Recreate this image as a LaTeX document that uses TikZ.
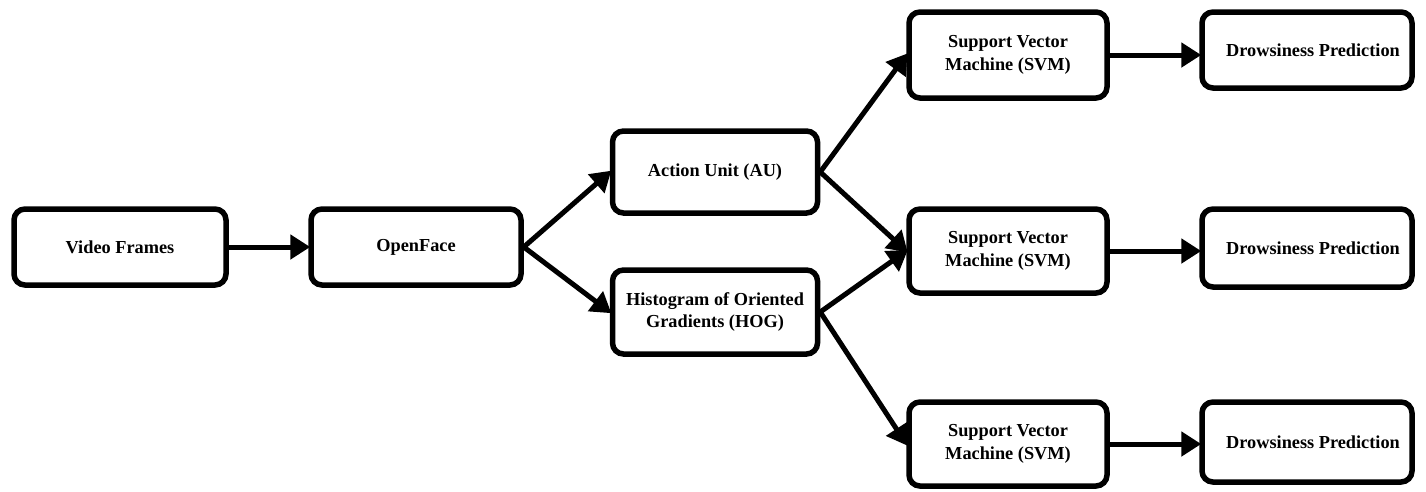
\documentclass[tikz,border=0pt]{standalone}
\usepackage{fontspec}
\setmainfont{Liberation Serif}
\usetikzlibrary{arrows.meta}
\begin{document}
\begin{tikzpicture}[x=1pt,y=-1pt,
  box/.style={draw, line width=5.5pt, rounded corners=11pt, align=center,
    inner sep=0pt, font=\fontsize{18.3}{22.5}\selectfont\bfseries},
  conn/.style={line width=5pt, -{Triangle[length=20pt,width=24pt]}, shorten >=-2pt}]
\useasboundingbox (0,0) rectangle (1426,491);
\node[box, minimum width=212pt, minimum height=76pt] (vf) at (120,247) {Video Frames};
\node[box, minimum width=210pt, minimum height=76pt] (of) at (416,247) {OpenFace};
\node[box, minimum width=205pt, minimum height=82pt] (au) at (715,172) {Action Unit (AU)};
\node[box, minimum width=205pt, minimum height=84pt] (hog) at (715,312) {Histogram of Oriented\\Gradients (HOG)};
\node[box, minimum width=198pt, minimum height=86pt] (svm1) at (1008,55) {Support Vector\\Machine (SVM)};
\node[box, minimum width=198pt, minimum height=84pt] (svm2) at (1008,251) {Support Vector\\Machine (SVM)};
\node[box, minimum width=198pt, minimum height=84pt] (svm3) at (1008,444) {Support Vector\\Machine (SVM)};
\node[box, minimum width=210pt, minimum height=76pt] (dp1) at (1307,50) {\hspace*{12pt}Drowsiness Prediction};
\node[box, minimum width=210pt, minimum height=78pt] (dp2) at (1307,248) {\hspace*{12pt}Drowsiness Prediction};
\node[box, minimum width=210pt, minimum height=80pt] (dp3) at (1307,442) {\hspace*{12pt}Drowsiness Prediction};
\draw[conn] (vf.east) -- (of.west);
\draw[conn] (of.east) -- (au.west);
\draw[conn] (of.east) -- (hog.west);
\draw[conn] (au.east) -- (svm1.west);
\draw[conn] (au.east) -- (svm2.west);
\draw[conn] (hog.east) -- (svm2.west);
\draw[conn] (hog.east) -- (svm3.west);
\draw[conn] (svm1.east) -- (dp1.west |- svm1.east);
\draw[conn] (svm2.east) -- (dp2.west |- svm2.east);
\draw[conn] (svm3.east) -- (dp3.west |- svm3.east);
\end{tikzpicture}
\end{document}
